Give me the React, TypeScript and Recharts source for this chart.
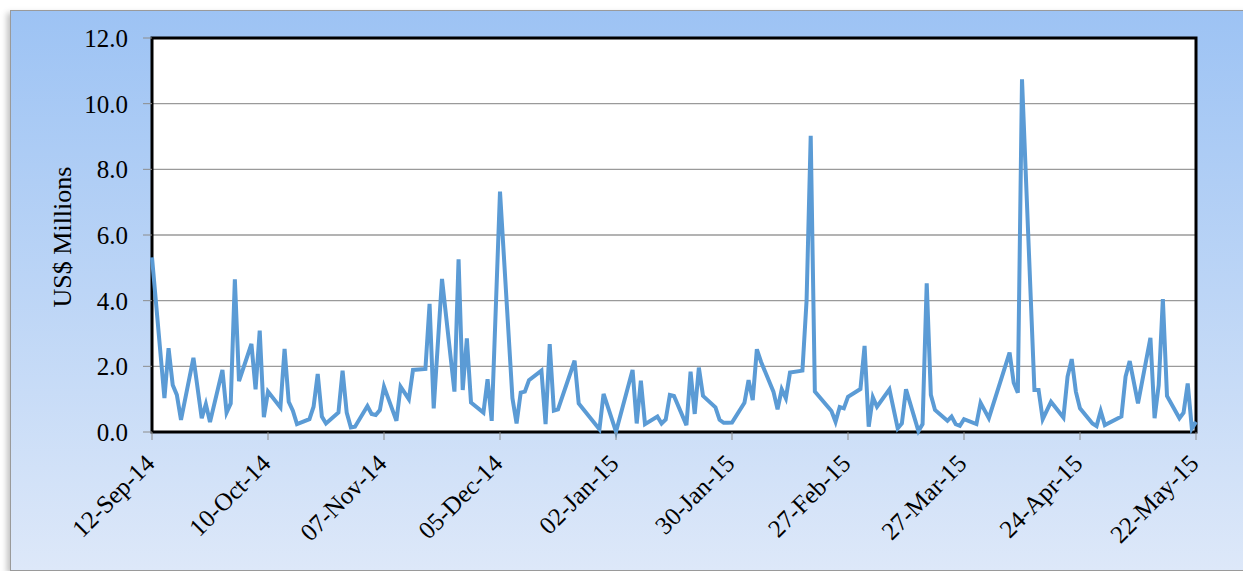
import React from "react";
import { LineChart, Line, XAxis, YAxis, CartesianGrid, ReferenceArea, Label } from "recharts";

// trading days counted from 12-Sep-14
const days = [
  0, 3, 4, 5, 6, 7, 10, 12, 13, 14, 17, 18, 19, 20, 21, 24, 25, 26, 27, 28,
  31, 32, 33, 34, 35, 38, 39, 40, 41, 42, 45, 46, 47, 48, 49, 52, 53, 54, 55, 56,
  59, 60, 62, 63, 66, 67, 68, 70, 73, 74, 75, 76, 77, 80, 81, 82, 84, 87, 88, 89,
  90, 91, 94, 95, 96, 97, 98, 102, 103, 108, 109, 112, 116, 117, 118, 119, 122, 123, 124, 125,
  126, 129, 130, 131, 132, 133, 136, 137, 138, 139, 140, 143, 144, 145, 146, 147, 150, 151, 152, 153,
  154, 157, 158, 159, 160, 164, 165, 166, 167, 168, 171, 172, 173, 174, 175, 178, 180, 181, 182, 185,
  186, 187, 188, 189, 192, 193, 194, 195, 196, 199, 200, 202, 207, 208, 209, 210, 213, 214, 215, 217,
  220, 221, 222, 223, 224, 227, 228, 229, 230, 234, 235, 236, 238, 241, 242, 243, 244, 245, 248, 249,
  250, 251, 252,
];

const amounts = [
  5.32, 1.03, 2.55, 1.43, 1.13, 0.37, 2.26, 0.42, 0.85, 0.3, 1.89, 0.59, 0.87, 4.65, 1.55, 2.68, 1.3, 3.09, 0.45, 1.23,
  0.75, 2.53, 0.92, 0.65, 0.24, 0.39, 0.77, 1.77, 0.47, 0.26, 0.59, 1.87, 0.59, 0.14, 0.16, 0.79, 0.55, 0.52, 0.67, 1.38,
  0.34, 1.38, 1.0, 1.89, 1.92, 3.9, 0.72, 4.66, 1.23, 5.26, 1.28, 2.85, 0.9, 0.59, 1.61, 0.34, 7.32, 1.03, 0.26, 1.2,
  1.23, 1.58, 1.87, 0.24, 2.68, 0.65, 0.69, 2.17, 0.87, 0.08, 1.16, 0.01, 1.89, 0.26, 1.56, 0.24, 0.47, 0.26, 0.38, 1.13,
  1.1, 0.21, 1.84, 0.55, 1.96, 1.1, 0.75, 0.37, 0.28, 0.28, 0.29, 0.89, 1.58, 0.97, 2.52, 2.14, 1.23, 0.69, 1.3, 1.03,
  1.81, 1.87, 4.0, 9.02, 1.23, 0.64, 0.31, 0.76, 0.72, 1.07, 1.31, 2.62, 0.16, 1.06, 0.77, 1.3, 0.11, 0.26, 1.3, 0.03,
  0.24, 4.53, 1.13, 0.67, 0.34, 0.47, 0.24, 0.19, 0.39, 0.24, 0.89, 0.42, 2.42, 1.5, 1.2, 10.74, 1.28, 1.28, 0.39, 0.92,
  0.44, 1.69, 2.22, 1.23, 0.72, 0.26, 0.18, 0.64, 0.21, 0.47, 1.69, 2.16, 0.87, 2.87, 0.42, 1.43, 4.05, 1.1, 0.42, 0.59,
  1.48, 0.11, 0.31,
];

const tickDays = [0, 28, 56, 84, 112, 140, 168, 196, 224, 252];
const tickLabels = [
  "12-Sep-14", "10-Oct-14", "07-Nov-14", "05-Dec-14", "02-Jan-15",
  "30-Jan-15", "27-Feb-15", "27-Mar-15", "24-Apr-15", "22-May-15",
];
const yTicks = [0, 2, 4, 6, 8, 10, 12];

const data = days.map((d, i) => ({ day: d, value: amounts[i] }));

const FONT = "'Times New Roman', 'Liberation Serif', serif";

const DateTick = (props: any) => {
  const { x, y, payload } = props;
  const label = tickLabels[tickDays.indexOf(payload.value)] ?? "";
  return (
    <g transform={`translate(${x},${y})`}>
      <text x={4} y={23} transform="rotate(-45 4 23)" textAnchor="end" fontSize={25} fontFamily={FONT} fill="#000">
        {label}
      </text>
    </g>
  );
};

const AxisTitle = () => (
  <text x={62} y={237} transform="rotate(-90 62 237)" textAnchor="middle" dominantBaseline="central" fontSize={26} fontFamily={FONT} fill="#000">
    US$ Millions
  </text>
);

export default function App() {
  return (
    <div style={{ position: "absolute", left: 0, top: 0, width: 1243, height: 571, overflow: "hidden" }}>
      <div
        style={{
          position: "absolute",
          left: 10,
          top: 10,
          width: 1245,
          height: 559,
          border: "1px solid #9a9a9a",
          boxShadow: "-3px 3px 6px rgba(0,0,0,0.25)",
          background: "linear-gradient(to bottom, #9dc3f4 0%, #bcd5f6 50%, #dde8f9 100%)",
        }}
      />
      <div style={{ position: "absolute", left: 0, top: 0 }}>
        <LineChart width={1243} height={571} data={data} margin={{ top: 38, right: 47, bottom: 0, left: 0 }}>
          <CartesianGrid horizontal vertical={false} fill="#fff" stroke="#9a9a9a" strokeWidth={1.3} />
          <XAxis
            dataKey="day"
            type="number"
            domain={[0, 252]}
            ticks={tickDays}
            interval={0}
            axisLine={false}
            tickLine={{ stroke: "#8c8c8c" }}
            tickSize={8}
            tickMargin={2}
            tick={<DateTick />}
            height={139}
          />
          <YAxis
            type="number"
            domain={[0, 12]}
            ticks={yTicks}
            interval={0}
            width={152}
            axisLine={false}
            tickLine={{ stroke: "#8c8c8c" }}
            tickSize={9}
            tickMargin={15}
            tickFormatter={(v: number) => v.toFixed(1)}
            tick={{ fill: "#000", fontSize: 25, fontFamily: FONT }}
          >
            <Label content={() => <AxisTitle />} />
          </YAxis>
          <Line
            type="linear"
            dataKey="value"
            stroke="#5b9bd5"
            strokeWidth={4}
            dot={false}
            isAnimationActive={false}
          />
          <ReferenceArea x1={0} x2={252} y1={0} y2={12} fill="none" stroke="#000" strokeWidth={3} />
        </LineChart>
      </div>
    </div>
  );
}
